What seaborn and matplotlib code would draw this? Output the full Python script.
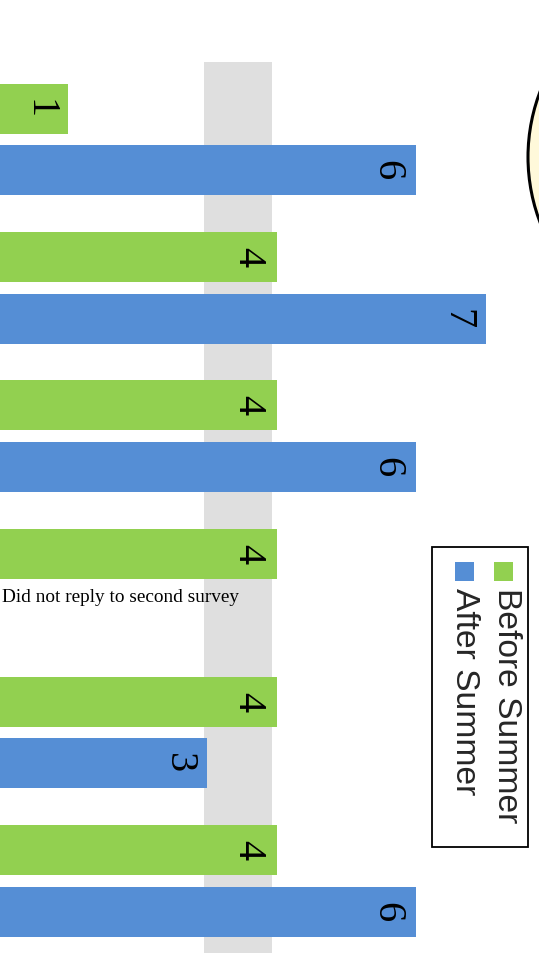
import numpy as np
import pandas as pd
import matplotlib
matplotlib.use("Agg")
import matplotlib.pyplot as plt
from matplotlib.patches import Rectangle, Ellipse
import seaborn as sns

# ---- data ----
categories = ["Item 1", "Item 2", "Item 3", "Item 4", "Item 5", "Item 6"]
series_names = ["Before Summer", "After Summer"]
before_summer = [1, 4, 4, 4, 4, 4]
after_summer = [6, 7, 6, np.nan, 3, 6]
note_text = "Did not reply to second survey"
colors = ["#92D050", "#558ED5"]

df = pd.DataFrame({
    "category": categories * 2,
    "series": [series_names[0]] * len(categories) + [series_names[1]] * len(categories),
    "value": before_summer + after_summer,
})

W, H = 539, 964
sns.set_theme(style="white")
plt.rcParams["font.family"] = ["Liberation Serif", "DejaVu Serif"]

fig = plt.figure(figsize=(W / 100, H / 100), dpi=100)
ax = fig.add_axes([0, 0, 1, 1])


def fx(x):
    return x / W


def fy(y):
    return 1 - y / H


sns.barplot(data=df, y="category", x="value", hue="series", order=categories,
            hue_order=series_names, palette=colors, orient="h",
            width=0.83, gap=0.187, saturation=1, legend=False, ax=ax,
            errorbar=None, zorder=2, linewidth=0, edgecolor="none")

# value labels (rotated, inside bar ends)
for p in list(ax.patches):
    w = p.get_width()
    if w is None or not np.isfinite(w) or w <= 0:
        continue
    ax.text(w - 0.42, p.get_y() + p.get_height() / 2, f"{int(round(w))}",
            rotation=-90, ha="center", va="center", fontsize=29,
            color="black", zorder=4)

# gray band behind bars
ax.fill_betweenx([-0.5226, 5.4855], 2.952, 3.928, color="#DFDFDF", lw=0, zorder=0)

ax.set_xlim(0.024, 7.760)
ax.set_ylim(5.5597, -0.9407)
ax.set_axis_off()

# note text for missing response
fig.text(fx(2), fy(598), note_text, fontsize=13.9, ha="left", va="center",
         family=["Liberation Serif", "DejaVu Serif"], color="black")

# circle at top right
fig.add_artist(Ellipse((fx(711), fy(157)), 366 / W, 366 / H, transform=fig.transFigure,
                       facecolor="#FFF9DA", edgecolor="black", lw=2.2, zorder=5))

# rotated legend
fig.add_artist(Rectangle((fx(432), fy(847)), 96 / W, 300 / H, transform=fig.transFigure,
                         facecolor="white", edgecolor="black", lw=1.3, zorder=5))
legend_x = [503.5, 464.5]
text_x = [506, 464]
for name, col, sx, tx in zip(series_names, colors, legend_x, text_x):
    fig.add_artist(Rectangle((fx(sx - 9.5), fy(581)), 19 / W, 19 / H,
                             transform=fig.transFigure, facecolor=col,
                             edgecolor="none", zorder=6))
    fig.text(fx(tx), fy(588), name, rotation=-90, ha="center", va="top",
             fontsize=24.2, family=["Liberation Sans", "DejaVu Sans"], zorder=6)

fig.savefig("out.png", dpi=100)
